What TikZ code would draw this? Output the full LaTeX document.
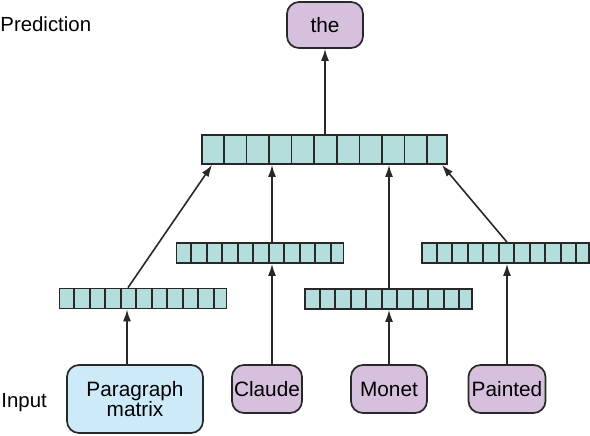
\documentclass[tikz,border=0pt]{standalone}
\usepackage{fontspec}
\setmainfont{Liberation Sans}
\usepackage{tikz}
\usetikzlibrary{positioning, arrows.meta, calc}

\definecolor{cellfill}{RGB}{180,222,220}
\definecolor{wordfill}{RGB}{214,192,222}
\definecolor{parfill}{RGB}{204,234,248}
\definecolor{edge}{RGB}{40,40,40}

\tikzset{
	word/.style={draw=edge, line width=0.85pt, fill=wordfill, rounded corners=6pt,
		minimum height=24pt, inner sep=1pt, font=\fontsize{10.4}{12}\selectfont, align=center},
	parbox/.style={word, fill=parfill, minimum width=68pt, minimum height=34pt},
	bigvec/.style={draw=edge, line width=0.85pt, fill=cellfill, minimum width=122.5pt, minimum height=14.5pt, inner sep=0pt},
	smallvec/.style={draw=edge, line width=0.85pt, fill=cellfill, minimum width=83.5pt, minimum height=10pt, inner sep=0pt},
	link/.style={draw=edge, line width=0.8pt, -{Latex[length=6pt,width=4pt]}},
	side/.style={font=\fontsize{10.2}{12}\selectfont, anchor=base west, inner sep=0pt}
}

% cells of a vector node: #1 name, #2 cell width
\newcommand{\cellsof}[2]{%
	\foreach \k in {1,...,10}{
		\draw[draw=edge, line width=0.85pt] ($(#1.north west)+(\k*#2,0)$) -- ($(#1.south west)+(\k*#2,0)$);
	}%
}

\begin{document}
\begin{tikzpicture}[x=0.5pt, y=-0.5pt]
	\useasboundingbox (0,0) rectangle (590,435);

	% labels
	\node[side] (predlabel) at (0,31) {Prediction};
	\node[side] (inlabel) at (1,407) {Input};

	% output word
	\node[word, minimum width=38pt, minimum height=23pt] (the) at (325,25) {the};

	% averaged vector
	\node[bigvec] (avg) at (324.5,149.5) {};
	\cellsof{avg}{11.3pt}

	% input vectors
	\node[smallvec] (pvec) at (143,298.5) {};
	\node[smallvec] (cvec) at (260,253) {};
	\node[smallvec] (mvec) at (388.5,299) {};
	\node[smallvec] (tvec) at (505.5,253) {};
	\foreach \v in {pvec,cvec,mvec,tvec}{
		\cellsof{\v}{7.75pt}
	}

	% input words
	\node[parbox] (parmat) at (135,399) {Paragraph\\[-2pt]matrix};
	\node[word, minimum width=35pt] (claude) at (267,389) {Claude};
	\node[word, minimum width=38pt] (monet) at (389,389) {Monet};
	\node[word, minimum width=38.5pt] (painted) at (507,389) {Painted};

	% connectors
	\draw[link] ([xshift=-4pt]parmat.north) -- ([xshift=-4pt]parmat.north |- pvec.south);
	\draw[link] ([xshift=2.5pt]claude.north) -- ([xshift=2.5pt]claude.north |- cvec.south);
	\draw[link] (monet.north) -- (monet.north |- mvec.south);
	\draw[link] (painted.north) -- (painted.north |- tvec.south);

	\draw[link] ([xshift=-7.5pt]pvec.north) -- ([xshift=5.5pt]avg.south west);
	\draw[link] ([xshift=6pt]cvec.north) -- ([xshift=6pt]cvec.north |- avg.south);
	\draw[link] (monet.north |- mvec.north) -- (monet.north |- avg.south);
	\draw[link] (painted.north |- tvec.north) -- ([xshift=-3pt]avg.south east);

	\draw[link] (avg.north -| the.south) -- (the.south);
\end{tikzpicture}
\end{document}
